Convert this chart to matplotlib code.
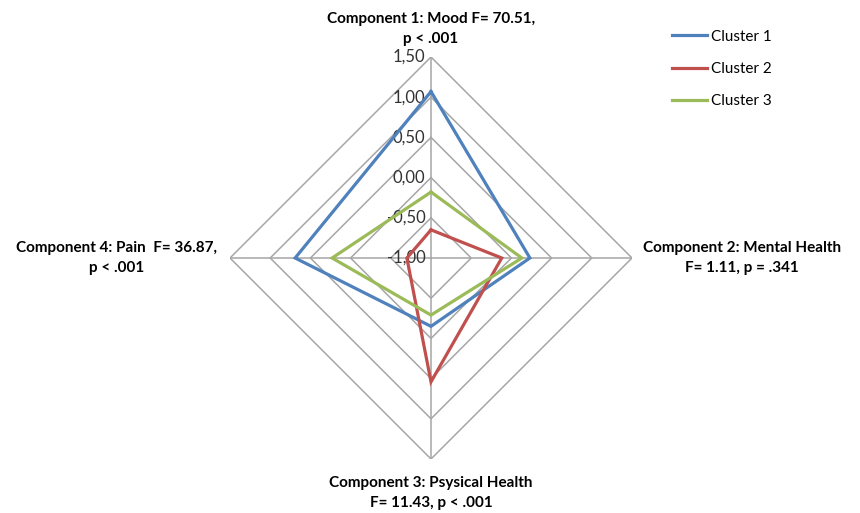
import matplotlib.pyplot as plt
import numpy as np

# radar data
axis_labels = ['Component 1: Mood F= 70.51,\np < .001',
               'Component 2: Mental Health\nF= 1.11, p = .341',
               'Component 3: Psysical Health\nF= 11.43, p < .001',
               'Component 4: Pain  F= 36.87,\np < .001']
cluster_names = ['Cluster 1', 'Cluster 2', 'Cluster 3']
cluster1 = [1.07, 0.23, -0.15, 0.69]
cluster2 = [-0.65, -0.12, 0.54, -0.70]
cluster3 = [-0.18, 0.13, -0.29, 0.23]
levels = [-1.0, -0.5, 0.0, 0.5, 1.0, 1.5]
level_labels = ['-1,00', '-0,50', '0,00', '0,50', '1,00', '1,50']

colors = ['#4F81BD', '#C0504D', '#9BBB59']
font = ['Lato', 'DejaVu Sans']
plt.rcParams['font.family'] = font

fig = plt.figure(figsize=(8.6, 5.13), dpi=100)
ax = fig.add_axes([230 / 860, 54 / 513, 402 / 860, 402 / 513], projection='polar')
ax.set_theta_zero_location('N')
ax.set_theta_direction(-1)
ax.set_ylim(levels[0], levels[-1])

theta = np.deg2rad([0, 90, 180, 270])
theta_closed = np.append(theta, theta[0])

ax.grid(False)
ax.spines['polar'].set_visible(False)
ax.set_xticks([])
ax.set_yticks([])

# polygon grid and spokes
for lv in levels[1:]:
    ax.plot(theta_closed, [lv] * 5, color='#A6A6A6', lw=1.1, zorder=1)
for t in theta:
    ax.plot([t, t], [levels[0], levels[-1]], color='#A6A6A6', lw=1.1, zorder=1)

for lv, lab in zip(levels, level_labels):
    ax.annotate(lab, xy=(0, lv), xytext=(-4, 0), textcoords='offset points',
                ha='right', va='center', fontsize=12, color='#333333')

data = [cluster1, cluster2, cluster3]
for vals, name, c in zip(data, cluster_names, colors):
    ax.plot(theta_closed, vals + [vals[0]], color=c, lw=2.3, label=name, zorder=3,
            solid_joinstyle='miter')

# axis titles
kw = dict(textcoords='offset points', fontsize=11, fontweight='bold',
          multialignment='center', linespacing=1.55)
ax.annotate(axis_labels[0], xy=(theta[0], 1.5), xytext=(0, 8), ha='center', va='bottom', **kw)
ax.annotate(axis_labels[1], xy=(theta[1], 1.5), xytext=(8, 0), ha='left', va='center', **kw)
ax.annotate(axis_labels[2], xy=(theta[2], 1.5), xytext=(0, -12), ha='center', va='top', **kw)
ax.annotate(axis_labels[3], xy=(theta[3], 1.5), xytext=(-9, 0), ha='right', va='center', **kw)

fig.legend(loc='upper left', bbox_to_anchor=(658 / 860, 1 - 16 / 513), frameon=False,
           fontsize=11, handlelength=2.3, labelspacing=1.2, handletextpad=0.3)

fig.savefig('out.png', dpi=100)
